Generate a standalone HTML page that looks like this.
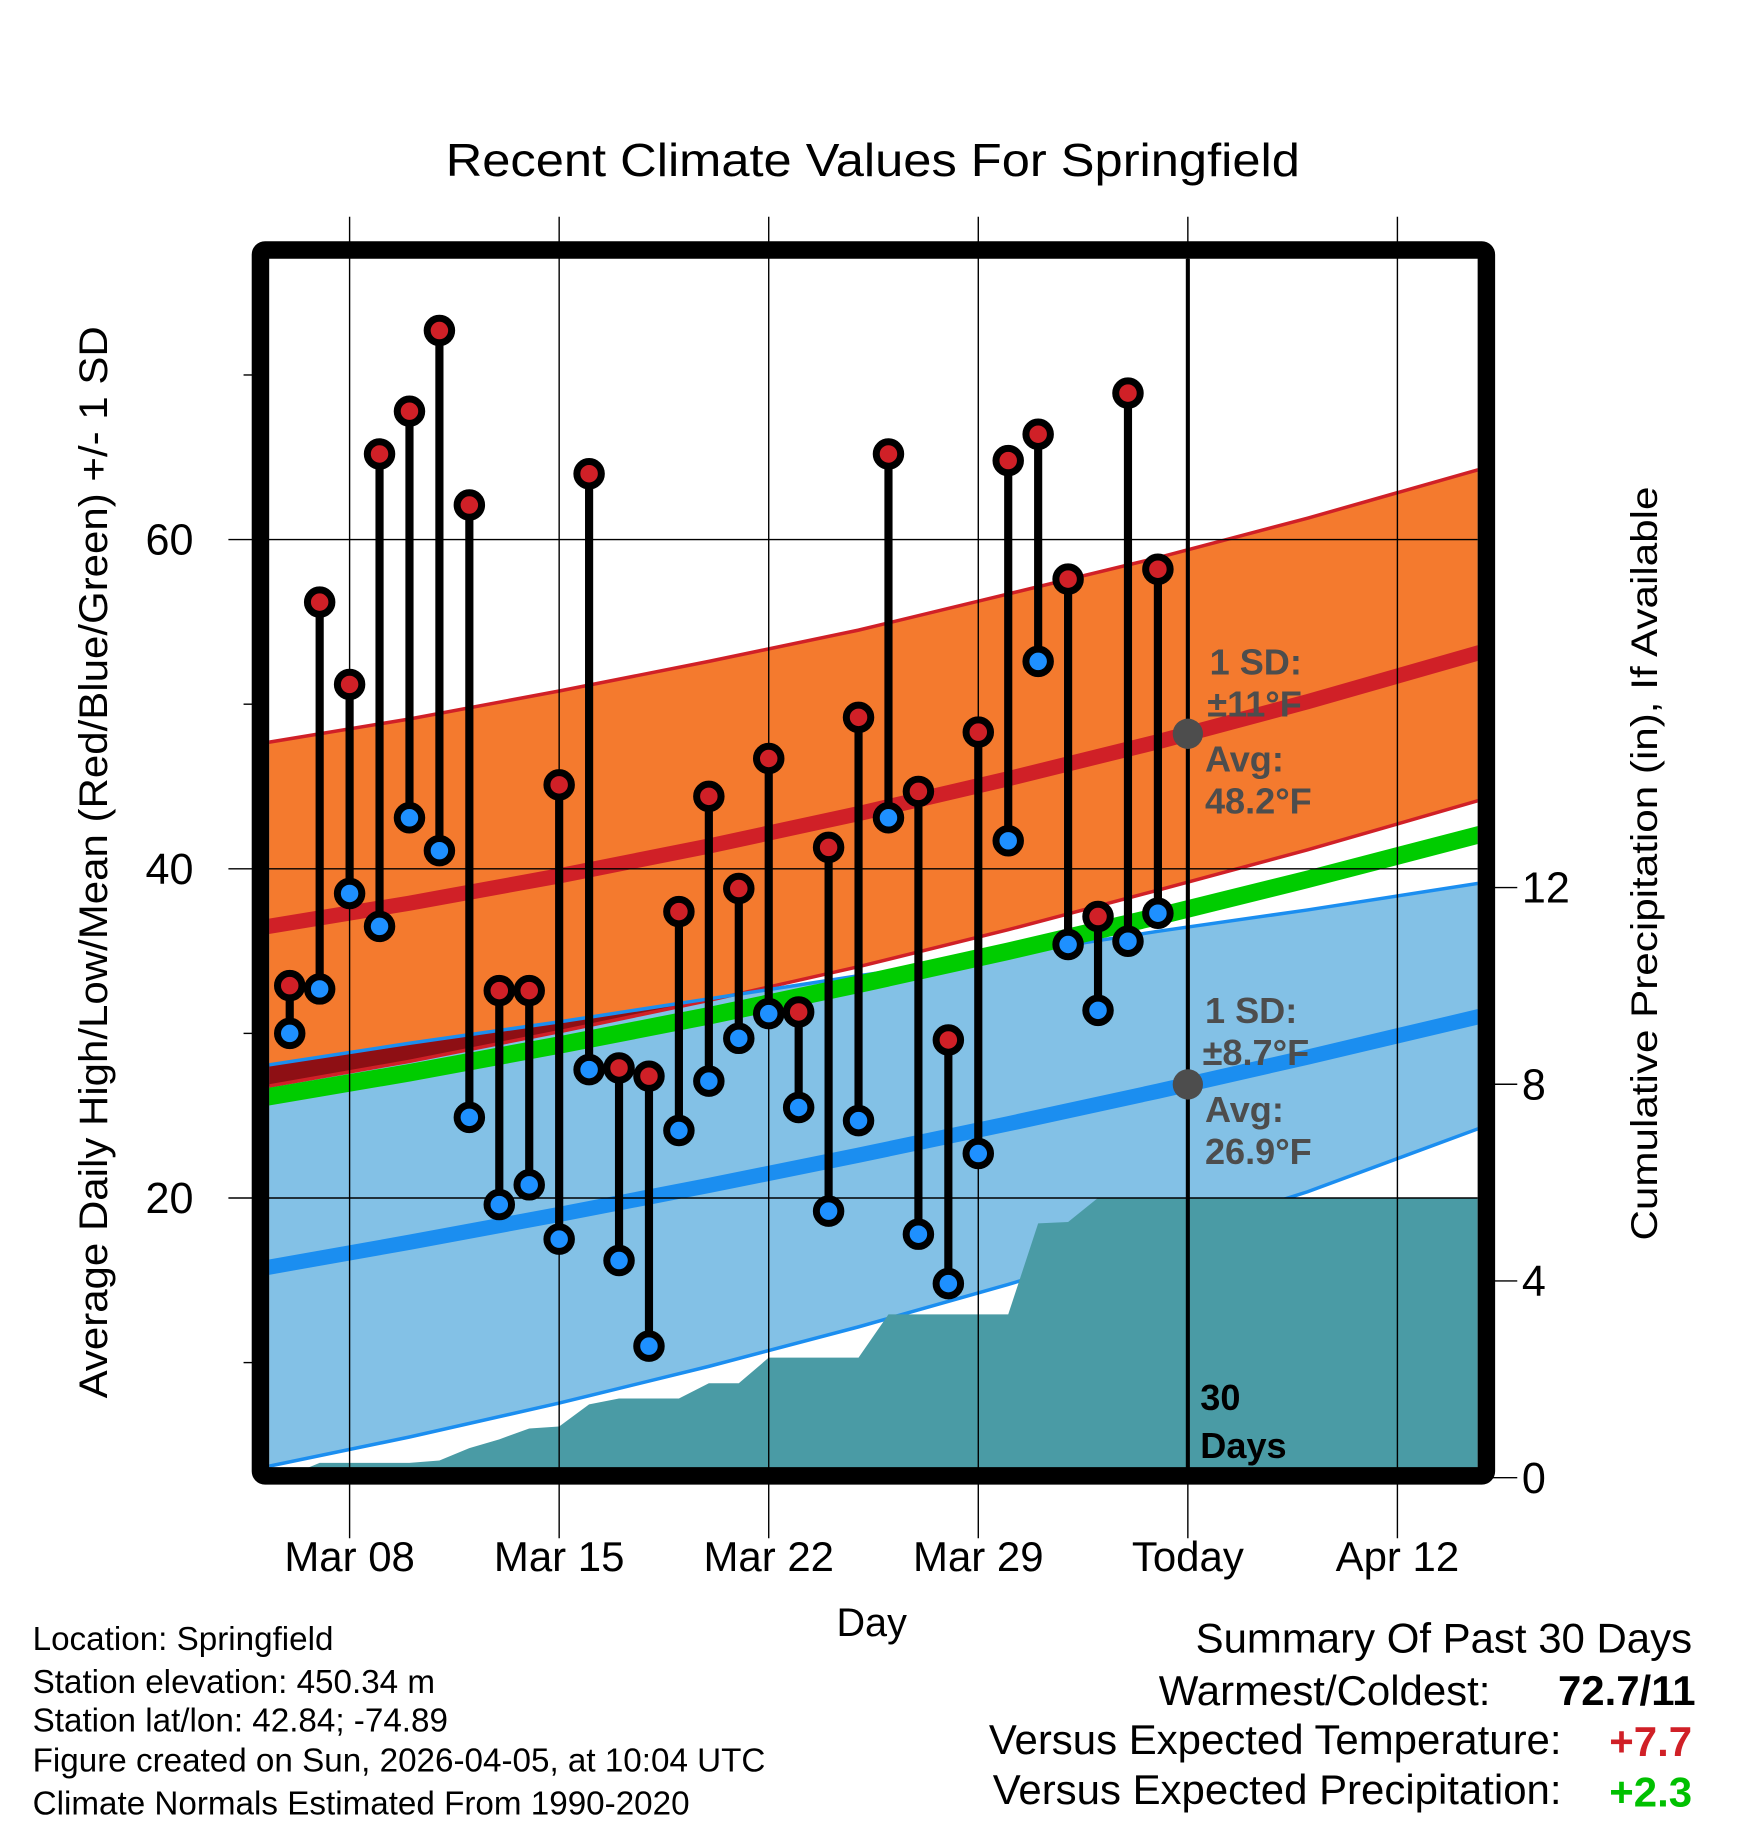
<!DOCTYPE html>
<html><head><meta charset="utf-8">
<style>
html,body{margin:0;padding:0;background:#fff;}
svg{display:block;font-family:"Liberation Sans",Arial,sans-serif;}
</style></head>
<body>
<svg id="chart" width="1748" height="1828" viewBox="0 0 1500 1568.6" xmlns="http://www.w3.org/2000/svg">
<defs>
<clipPath id="plotClip"><rect x="231" y="222" width="1037" height="1038"/></clipPath>
</defs>
<g id="layer-fill"></g>
<text x="749" y="151" font-size="40" text-anchor="middle" textLength="733" lengthAdjust="spacingAndGlyphs">Recent Climate Values For Springfield</text>
<text transform="translate(92,740) rotate(-90)" font-size="34" text-anchor="middle" textLength="920" lengthAdjust="spacingAndGlyphs">Average Daily High/Low/Mean (Red/Blue/Green) +/- 1 SD</text>
<text transform="translate(1422,741) rotate(-90)" font-size="32" text-anchor="middle" textLength="647" lengthAdjust="spacingAndGlyphs">Cumulative Precipitation (in), If Available</text>
<text x="748" y="1404" font-size="34" text-anchor="middle">Day</text>
<g font-size="28.5">
<text x="28" y="1416">Location: Springfield</text>
<text x="28" y="1453">Station elevation: 450.34 m</text>
<text x="28" y="1486">Station lat/lon: 42.84; -74.89</text>
<text x="28" y="1520">Figure created on Sun, 2026-04-05, at 10:04 UTC</text>
<text x="28" y="1557">Climate Normals Estimated From 1990-2020</text>
</g>
<g font-size="36">
<text x="1452" y="1418" text-anchor="end">Summary Of Past 30 Days</text>
<text x="1279" y="1463" text-anchor="end">Warmest/Coldest:</text>
<text x="1455" y="1463" text-anchor="end" font-weight="bold">72.7/11</text>
<text x="1340" y="1505" text-anchor="end">Versus Expected Temperature:</text>
<text x="1452" y="1507" text-anchor="end" font-weight="bold" fill="#d02027">+7.7</text>
<text x="1340" y="1548" text-anchor="end">Versus Expected Precipitation:</text>
<text x="1452" y="1550" text-anchor="end" font-weight="bold" fill="#00c000">+2.3</text>
</g>
</svg>
<script>
// ---- data ----
const dayLabels = ["Mar 08","Mar 15","Mar 22","Mar 29","Today","Apr 12"];
const dayTicks = [0,7,14,21,28,35];
const yTicks = [20,40,60];
const yMinor = [10,30,50,70];
const pTicks = [0,4,8,12];
const obsDays = [-2,-1,0,1,2,3,4,5,6,7,8,9,10,11,12,13,14,15,16,17,18,19,20,21,22,23,24,25,26,27];
const highs = [32.9,56.2,51.2,65.2,67.8,72.7,62.1,32.6,32.6,45.1,64.0,27.9,27.4,37.4,44.4,38.8,46.7,31.3,41.3,49.2,65.2,44.7,29.6,48.3,64.8,66.4,57.6,37.1,68.9,58.2];
const lows = [30.0,32.7,38.5,36.5,43.1,41.1,24.9,19.6,20.8,17.5,27.8,16.2,11.0,24.1,27.1,29.7,31.2,25.5,19.2,24.7,43.1,17.8,14.8,22.7,41.7,52.6,35.4,31.4,35.6,37.3];
const normDays = [-3,2,7,12,17,22,27,32,38];
const normHighMean = [36.41,37.91,39.57,41.38,43.35,45.47,47.72,50.15,53.27];
const normHighUpper = [47.6,49.1,50.8,52.6,54.5,56.7,58.9,61.3,64.4];
const normHighLower = [26.7,28.3,30.1,32.0,34.05,36.3,38.7,41.15,44.3];
const normLowMean = [15.70,17.31,19.00,20.76,22.60,24.51,26.49,28.56,31.14];
const normLowUpper = [28.0,29.4,30.7,32.1,33.5,34.8,36.2,37.5,39.2];
const normLowLower = [3.59,5.48,7.54,9.77,12.17,14.75,17.47,20.38,24.41];
const normMean = [26.06,27.61,29.29,31.07,32.98,34.99,37.11,39.36,42.2];
const precipDays = [-2,-1,0,1,2,3,4,5,6,7,8,9,10,11,12,13,14,15,16,17,18,19,20,21,22,23,24,25,26,27,28,38];
const precipCum = [0.05,0.3,0.3,0.3,0.3,0.35,0.6,0.78,1.0,1.04,1.49,1.61,1.61,1.61,1.92,1.92,2.44,2.44,2.44,2.44,3.32,3.32,3.32,3.32,3.32,5.17,5.2,5.69,5.69,5.69,5.69,5.69];
const todayDay = 28;
const todayHighAvg = 48.2, todayLowAvg = 26.9;

// ---- axes ----
const X = d => 300 + d*25.69;
const Y = v => 463 + (60 - v)*14.125;
const P = p => 1268 - p*42.2;
const NS = "http://www.w3.org/2000/svg";
const svg = document.getElementById('chart');
const fillLayer = document.getElementById('layer-fill');
function mk(tag, attrs, parent){
  const e = document.createElementNS(NS, tag);
  for (const k in attrs) e.setAttribute(k, attrs[k]);
  (parent||svg).appendChild(e);
  return e;
}
const plot = mk('g', {'clip-path':'url(#plotClip)'}, fillLayer);
function bandPath(up, lo){
  let s = normDays.map((d,i)=>(i?'L':'M')+X(d)+','+Y(up[i])).join(' ');
  for (let i=normDays.length-1;i>=0;i--) s += ' L'+X(normDays[i])+','+Y(lo[i]);
  return s+' Z';
}
function linePath(arr){ return normDays.map((d,i)=>(i?'L':'M')+X(d)+','+Y(arr[i])).join(' '); }

const orangeBand = mk('path', {d:bandPath(normHighUpper, normHighLower), fill:'#f47a2e'}, plot);


const blueBand = mk('path', {d:bandPath(normLowUpper, normLowLower), fill:'#83c1e6'}, plot);


const defs = svg.querySelector('defs');
const cp = mk('clipPath', {id:'blueClip'}, defs);
mk('path', {d:bandPath(normLowUpper, normLowLower)}, cp);
const overlap = mk('path', {d:bandPath(normHighUpper, normHighLower), fill:'#8e0f14', 'clip-path':'url(#blueClip)'}, plot);



const lines = [
  [normHighUpper,'#d02027',3,'high-upper-line'],
  [normHighLower,'#d02027',3,'high-lower-line'],
  [normLowUpper,'#1b8ef0',3,'low-upper-line'],
  [normLowLower,'#1b8ef0',3,'low-lower-line'],
  [normHighMean,'#d02027',13,'normal-high-line'],
  [normLowMean,'#1b8ef0',13,'normal-low-line'],
  [normMean,'#00cc00',15,'normal-mean-line']
];
lines.forEach(l=>{
  const p = mk('path', {d:linePath(l[0]), fill:'none', stroke:l[1], 'stroke-width':l[2]}, plot);
  
  
});

let pd = 'M'+X(-2.69)+','+P(0)+' L'+X(-2.69)+','+P(0);
precipDays.forEach((d,i)=>{ pd += ' L'+X(d)+','+P(precipCum[i]); });
pd += ' L'+X(precipDays[precipDays.length-1])+','+P(0)+' Z';
const precip = mk('path', {d:pd, fill:'#4a9ba5'}, plot);



dayTicks.forEach((d,i)=>{
  const g = mk('line', {x1:X(d), x2:X(d), y1:186, y2:1320, stroke:'#000', 'stroke-width':1.2});
  
  
  const t = mk('text', {x:X(d), y:1348, 'font-size':36, 'text-anchor':'middle'});
  t.textContent = dayLabels[i];
  
  
});
yTicks.forEach(v=>{
  const g = mk('line', {x1:196, x2:1268, y1:Y(v), y2:Y(v), stroke:'#000', 'stroke-width':1.2});
  
  
  const t = mk('text', {x:166, y:Y(v)+13, 'font-size':37, 'text-anchor':'end'});
  t.textContent = v;
  
  
});
yMinor.forEach(v=>{
  const g = mk('line', {x1:209, x2:220, y1:Y(v), y2:Y(v), stroke:'#000', 'stroke-width':1.2});
  
  
});
pTicks.forEach(p=>{
  const g = mk('line', {x1:1280, x2:1302, y1:P(p), y2:P(p), stroke:'#000', 'stroke-width':1.2});
  
  
  const t = mk('text', {x:1306, y:P(p)+13, 'font-size':37});
  t.textContent = p;
  
  
});

const tl = mk('line', {x1:X(todayDay), x2:X(todayDay), y1:222, y2:1260, stroke:'#000', 'stroke-width':3.5});



obsDays.forEach((d,i)=>{
  const s = mk('line', {x1:X(d), x2:X(d), y1:Y(highs[i]), y2:Y(lows[i]), stroke:'#000', 'stroke-width':7});
  
  
});
obsDays.forEach((d,i)=>{
  const h = mk('circle', {cx:X(d), cy:Y(highs[i]), r:10.5, fill:'#d02027', stroke:'#000', 'stroke-width':6});
  
  
  const l = mk('circle', {cx:X(d), cy:Y(lows[i]), r:10.5, fill:'#1e90ff', stroke:'#000', 'stroke-width':6});
  
  
});

[[todayHighAvg,'today-high-avg-dot'],[todayLowAvg,'today-low-avg-dot']].forEach(a=>{
  const c = mk('circle', {cx:X(todayDay), cy:Y(a[0]), r:13, fill:'#4d4d4d'});
  
  
});

const ann = [
  ['1 SD:',1038,579,'#4d4d4d','high-sd-label'],
  ['\u00b111\u00b0F',1036,615,'#4d4d4d','high-sd-value'],
  ['Avg:',1034,662,'#4d4d4d','high-avg-label'],
  [todayHighAvg.toFixed(1)+'\u00b0F',1034,698,'#4d4d4d','high-avg-value'],
  ['1 SD:',1034,878,'#4d4d4d','low-sd-label'],
  ['\u00b18.7\u00b0F',1032,914,'#4d4d4d','low-sd-value'],
  ['Avg:',1034,963,'#4d4d4d','low-avg-label'],
  [todayLowAvg.toFixed(1)+'\u00b0F',1034,999,'#4d4d4d','low-avg-value'],
  ['30',1030,1210,'#000','days-count'],
  ['Days',1030,1251,'#000','days-label']
];
ann.forEach(a=>{
  const t = mk('text', {x:a[1], y:a[2], 'font-size':31, 'font-weight':'bold', fill:a[3]});
  t.textContent = a[0];
  
  
});

const fr = mk('rect', {x:223.5, y:214.5, width:1052, height:1052, rx:4, fill:'none', stroke:'#000', 'stroke-width':15});


</script>
</body></html>
